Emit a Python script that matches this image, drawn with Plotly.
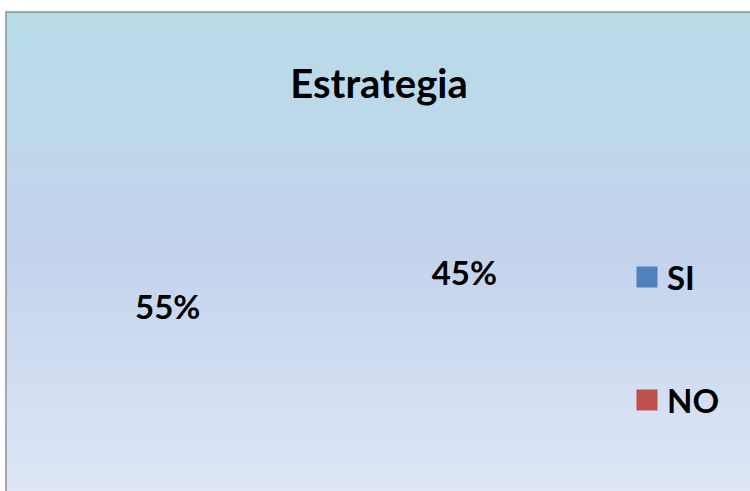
import plotly.graph_objects as go

# Data
categories = ["SI", "NO"]
values = [45, 55]
legend_colors = ["#4F81BD", "#C0504D"]
title_text = "Estrategia"

W, H = 750, 491
FONT = "Lato"

fig = go.Figure()

# Invisible pie slices, only percentage labels shown
cx, cy, r = 316, 289, 107
fig.add_trace(go.Pie(
    labels=categories, values=values, sort=False, direction="clockwise", rotation=0,
    marker=dict(colors=["rgba(0,0,0,0)", "rgba(0,0,0,0)"], line=dict(width=0)),
    textinfo="percent", textposition="outside",
    outsidetextfont=dict(family=FONT, size=33, color="black", weight="bold"),
    showlegend=False, hoverinfo="skip",
    domain=dict(x=[(cx - r) / W, (cx + r) / W], y=[(H - cy - r) / H, (H - cy + r) / H]),
))

# Legend entries
for i, (cat, col) in enumerate(zip(categories, legend_colors)):
    fig.add_trace(go.Scatter(
        x=[None], y=[None], mode="markers", name=cat,
        marker=dict(symbol="square", size=20, color=col, line=dict(width=5, color=col)),
        legend="legend" if i == 0 else "legend2",
    ))

# Gradient background strips
shapes = []
x0p, y0p = 6, 12
stops = [(0.0, (183, 220, 232)), (0.5, (195, 211, 237)), (1.0, (222, 230, 245))]
def col_at(t):
    for (t0, c0), (t1, c1) in zip(stops[:-1], stops[1:]):
        if t <= t1:
            f = (t - t0) / (t1 - t0)
            return tuple(round(a + (b - a) * f) for a, b in zip(c0, c1))
    return stops[-1][1]
N = 80
top = 1 - y0p / H
for k in range(N):
    ya = top - top * k / N
    yb = top - top * (k + 1) / N
    c = col_at((k + 0.5) / N)
    shapes.append(dict(type="rect", xref="paper", yref="paper", x0=x0p / W, x1=1.01,
                       y0=yb - 0.002, y1=ya, line=dict(width=0),
                       fillcolor="rgb(%d,%d,%d)" % c, layer="below"))
shapes.append(dict(type="rect", xref="paper", yref="paper", x0=x0p / W, x1=1.01,
                   y0=-0.01, y1=top, line=dict(width=1.5, color="#8C9294"),
                   fillcolor="rgba(0,0,0,0)", layer="below"))

fig.update_layout(
    width=W, height=H,
    margin=dict(l=0, r=0, t=0, b=0),
    paper_bgcolor="white", plot_bgcolor="rgba(0,0,0,0)",
    shapes=shapes,
    title=dict(text=title_text, x=379 / W, xanchor="center", y=1 - 84 / H, yanchor="middle",
               font=dict(family=FONT, size=40, color="black", weight="bold")),
    xaxis=dict(visible=False), yaxis=dict(visible=False),
    legend=dict(x=627 / W, xanchor="left", y=1 - 277 / H, yanchor="middle",
                bgcolor="rgba(0,0,0,0)",
                font=dict(family=FONT, size=33, color="black", weight="bold")),
    legend2=dict(x=627 / W, xanchor="left", y=1 - 400 / H, yanchor="middle",
                 bgcolor="rgba(0,0,0,0)",
                 font=dict(family=FONT, size=33, color="black", weight="bold")),
)

fig.write_html("out.html", config={"displayModeBar": False},
               post_script="document.body.style.margin='0';")
